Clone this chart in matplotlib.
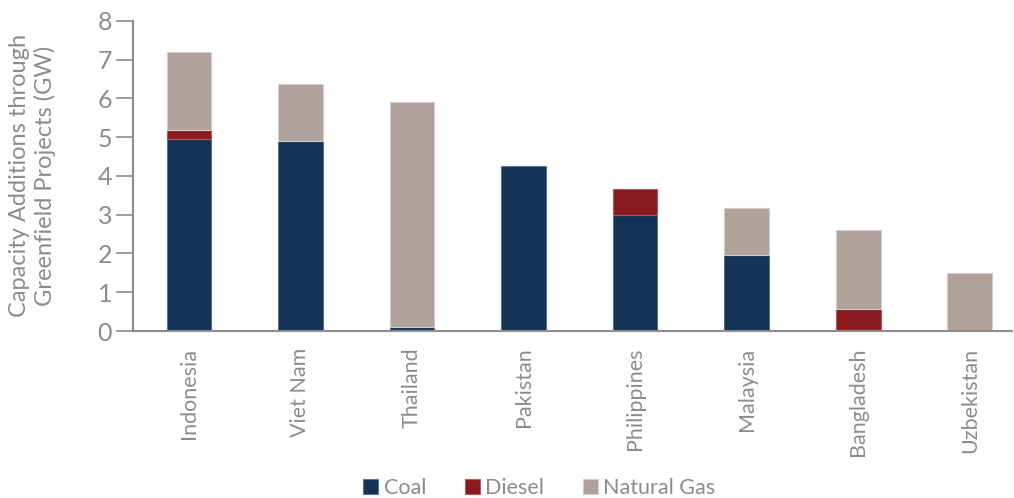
import matplotlib.pyplot as plt
import numpy as np

plt.rcParams['font.family'] = ['Lato', 'DejaVu Sans']

countries = ["Indonesia", "Viet Nam", "Thailand", "Pakistan",
             "Philippines", "Malaysia", "Bangladesh", "Uzbekistan"]
coal = [4.95, 4.90, 0.10, 4.26, 3.00, 1.95, 0.0, 0.0]
diesel = [0.22, 0.0, 0.0, 0.0, 0.66, 0.0, 0.58, 0.0]
natural_gas = [2.02, 1.48, 5.80, 0.0, 0.0, 1.23, 2.03, 1.49]

grey = "#8c8c8c"
colors = {"Coal": "#133256", "Diesel": "#8b1a1f", "Natural Gas": "#b0a09a"}
edges = {"Coal": "#5c7390", "Diesel": "#b05a5e", "Natural Gas": "#d6cdca"}

fig = plt.figure(figsize=(10.14, 4.98), dpi=100)
ax = fig.add_axes([0.1312, 0.3353, 0.867, 0.6231])

x = np.arange(len(countries))
bottom = np.zeros(len(countries))
for name, vals in [("Coal", coal), ("Diesel", diesel), ("Natural Gas", natural_gas)]:
    vals = np.array(vals)
    keep = vals > 0
    ax.bar(x[keep], vals[keep], 0.4, bottom=bottom[keep], color=colors[name],
           edgecolor=edges[name], linewidth=0.8, label=name)
    bottom += vals

ax.set_xlim(-0.5, 7.38)
ax.set_ylim(0, 8)
ax.set_yticks(range(0, 9))
ax.set_xticks(x)
ax.set_xticklabels(countries, rotation=90, fontsize=15.5, color=grey)
ax.tick_params(axis='y', labelsize=18, colors=grey, length=12, width=1.2, pad=3)
ax.tick_params(axis='x', length=0, pad=12)

for side in ["top", "right"]:
    ax.spines[side].set_visible(False)
for side in ["left", "bottom"]:
    ax.spines[side].set_color(grey)
    ax.spines[side].set_linewidth(1.5)

ax.set_ylabel("Capacity Additions through\nGreenfield Projects (GW)",
              fontsize=17, color=grey, labelpad=30, linespacing=1.2)

ax.legend(loc="center", bbox_to_anchor=(0.462, -0.505), ncol=3, frameon=False,
          fontsize=15.5, labelcolor=grey, handlelength=0.7, handleheight=0.7,
          handletextpad=0.25, columnspacing=1.8)

fig.savefig("out.png", dpi=100)
